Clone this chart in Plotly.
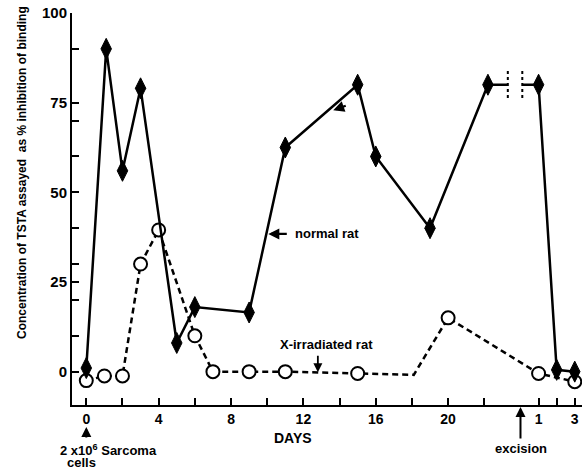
import plotly.graph_objects as go

# ---- data ----
normal_days = [0, 1.1, 2, 3, 5, 6, 9, 11, 15, 16, 19, 22.2, 25, 26, 27]
normal_vals = [1, 90, 56, 79, 8, 18, 16.5, 62.5, 80, 60, 40, 80, 80, 0.5, 0]

irr_days = [0, 1, 2, 3, 4, 6, 7, 9, 11, 15, 20, 25, 27]
irr_vals = [-2.5, -1.2, -1.2, 30, 39.5, 10, 0, 0, 0, -0.5, 15, -0.5, -2.8]
irr_bend_day = [18.1]
irr_bend_val = [-0.9]

x_tickvals = [0, 2, 4, 6, 8, 10, 12, 14, 16, 18, 20, 22, 25, 26, 27]
x_ticktext = ["0", "", "4", "", "8", "", "12", "", "16", "", "20", "", "1", "", "3"]
y_tickvals = [0, 10, 20, 25, 30, 40, 50, 60, 70, 75, 90, 100]
y_ticktext = ["0", "", "", "25", "", "", "50", "", "", "75", "", "100"]

excision_day = 24
break_days = [23.3, 24.1]

FONT = "Liberation Sans"

# dashed line path includes the drawn bend vertex
line_pts = sorted(zip(irr_days + irr_bend_day, irr_vals + irr_bend_val))
irr_line_x = [p[0] for p in line_pts]
irr_line_y = [p[1] for p in line_pts]

fig = go.Figure()

fig.add_trace(go.Scatter(x=irr_line_x, y=irr_line_y, mode="lines",
                         line=dict(color="black", width=2.5, dash="6px,4px"),
                         hoverinfo="skip", showlegend=False))
fig.add_trace(go.Scatter(x=irr_days, y=irr_vals, mode="markers",
                         marker=dict(symbol="circle", size=13, color="white",
                                     line=dict(color="black", width=2)),
                         showlegend=False, cliponaxis=False))
fig.add_trace(go.Scatter(x=normal_days, y=normal_vals, mode="lines+markers",
                         line=dict(color="black", width=2.5),
                         marker=dict(symbol="diamond-tall", size=15, color="black",
                                     line=dict(color="black", width=1)),
                         showlegend=False, cliponaxis=False))

# break in the normal-rat line
fig.add_shape(type="rect", x0=break_days[0], x1=break_days[1], y0=76, y1=85,
              xref="x", yref="y", fillcolor="white", line=dict(width=0), layer="above")
for bd in break_days:
    fig.add_shape(type="line", x0=bd, x1=bd, y0=76.3, y1=84.6, xref="x", yref="y",
                  line=dict(color="black", width=2, dash="dot"), layer="above")

tfont = dict(family=FONT, size=13, color="black", weight="bold")
C = dict(xanchor="center", yanchor="middle")
ann = []
# normal rat label and arrow
ann.append(dict(x=10.06, y=38.4, xref="x", yref="y", text="", showarrow=True,
                ax=20, ay=0, arrowhead=2, arrowsize=1, arrowwidth=2.2, arrowcolor="black"))
ann.append(dict(x=13.3, y=38.4, xref="x", yref="y", text="normal rat", showarrow=False,
                font=tfont, **C))
# small arrow mark on the line
ann.append(dict(x=13.65, y=72.9, xref="x", yref="y", text="", showarrow=True,
                ax=14, ay=-5, arrowhead=2, arrowsize=1, arrowwidth=2.2, arrowcolor="black"))
# X-irradiated label and arrow
ann.append(dict(x=13.3, y=7.6, xref="x", yref="y", text="X-irradiated rat", showarrow=False,
                font=tfont, **C))
ann.append(dict(x=12.8, y=-0.2, xref="x", yref="y", text="", showarrow=True,
                ax=0, ay=-18, arrowhead=2, arrowsize=1, arrowwidth=1.8, arrowcolor="black"))
# DAYS
ann.append(dict(x=11.4, y=-0.084, xref="x", yref="paper", text="DAYS", showarrow=False,
                font=dict(family=FONT, size=14, color="black", weight="bold"), **C))
# excision
ann.append(dict(x=excision_day, y=-0.005, xref="x", yref="paper", text="", showarrow=True,
                ax=0, ay=33, arrowhead=2, arrowsize=1, arrowwidth=2, arrowcolor="black"))
ann.append(dict(x=excision_day + 0.05, y=-0.11, xref="x", yref="paper", text="excision",
                showarrow=False, font=tfont, **C))
# sarcoma cells
ann.append(dict(x=0, y=-0.056, xref="x", yref="paper", text="", showarrow=True,
                ax=0, ay=12, arrowhead=2, arrowsize=1, arrowwidth=2, arrowcolor="black"))
ann.append(dict(x=1.25, y=-0.114, xref="x", yref="paper",
                text="2 x10<sup>6</sup> Sarcoma", showarrow=False, font=tfont, **C))
ann.append(dict(x=-0.27, y=-0.147, xref="x", yref="paper", text="cells",
                showarrow=False, font=tfont, **C))
# y title
ann.append(dict(x=-0.098, y=0.592, xref="paper", yref="paper",
                text="Concentration of TSTA assayed  as % inhibition of binding",
                textangle=-90, showarrow=False,
                font=dict(family=FONT, size=12, color="black", weight="bold"), **C))

fig.update_layout(
    width=582, height=469,
    margin=dict(l=72, r=0, t=13, b=64),
    paper_bgcolor="white", plot_bgcolor="white",
    annotations=ann,
    xaxis=dict(range=[-0.79, 27.4], showline=True, linecolor="black", linewidth=2,
               ticks="inside", ticklen=7, tickwidth=2, tickcolor="black",
               tickvals=x_tickvals, ticktext=x_ticktext, showgrid=False, zeroline=False,
               automargin=False,
               tickfont=dict(family=FONT, size=14, color="black", weight="bold")),
    yaxis=dict(range=[-9.3, 100], showline=True, linecolor="black", linewidth=2,
               ticks="inside", ticklen=7, tickwidth=2, tickcolor="black",
               tickvals=y_tickvals, ticktext=y_ticktext, showgrid=False, zeroline=False,
               automargin=False,
               tickfont=dict(family=FONT, size=15, color="black", weight="bold")),
)

fig.write_html("out.html", config={"displayModeBar": False},
               post_script="document.body.style.margin='0';document.body.style.overflow='hidden';")
